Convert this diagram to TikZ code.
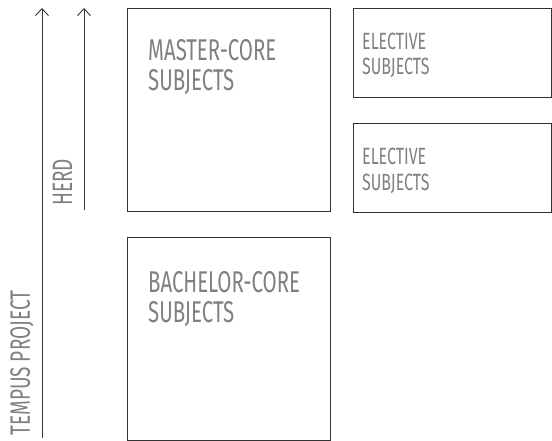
\documentclass[tikz,border=0pt]{standalone}
\usepackage{fontspec}
\setmainfont{Fira Sans}[FakeStretch=0.68]
\usetikzlibrary{arrows.meta}
\definecolor{txtgray}{HTML}{808080}
\definecolor{linegray}{HTML}{333333}
\tikzset{
  box/.style={draw=linegray, line width=0.9pt, inner sep=0pt, anchor=north west},
  bigtxt/.style={text=txtgray, font=\fontsize{30}{30}\selectfont, align=left, anchor=base west, inner sep=0pt},
  smalltxt/.style={text=txtgray, font=\fontsize{23.5}{25}\selectfont, align=left, anchor=base west, inner sep=0pt},
  sidetxt/.style={text=txtgray, font=\fontsize{28}{28}\selectfont, rotate=90, anchor=base west, inner sep=0pt},
  arr/.style={draw=linegray, line width=0.9pt, -{Straight Barb[length=7pt,width=13pt,line width=0.9pt]}}
}
\begin{document}
\begin{tikzpicture}[x=1pt,y=-1pt]
\useasboundingbox (0,0) rectangle (552,441);
\node[box, minimum width=203pt, minimum height=203pt] (master) at (127,8) {};
\node[box, minimum width=198pt, minimum height=89pt] (elec1) at (353,8) {};
\node[box, minimum width=198pt, minimum height=89pt] (elec2) at (353,123) {};
\node[box, minimum width=203pt, minimum height=203pt] (bach) at (127,237) {};
\node[bigtxt] (mastertxt) at (148,91) {MASTER-CORE\\SUBJECTS};
\node[bigtxt] (bachtxt) at (148,322) {BACHELOR-CORE\\SUBJECTS};
\node[smalltxt] (elec1txt) at (362,75) {ELECTIVE\\SUBJECTS};
\node[smalltxt] (elec2txt) at (362,190) {ELECTIVE\\SUBJECTS};
\coordinate (tb) at (42,438);
\coordinate (tt) at (42,8);
\coordinate (hb) at (84,210);
\coordinate (ht) at (84,8);
\draw[arr] (tb) -- (tt);
\draw[arr] (hb) -- (ht);
\node[sidetxt] (tempus) at (30,436) {TEMPUS PROJECT};
\node[sidetxt] (herd) at (72,206) {HERD};
\end{tikzpicture}
\end{document}
